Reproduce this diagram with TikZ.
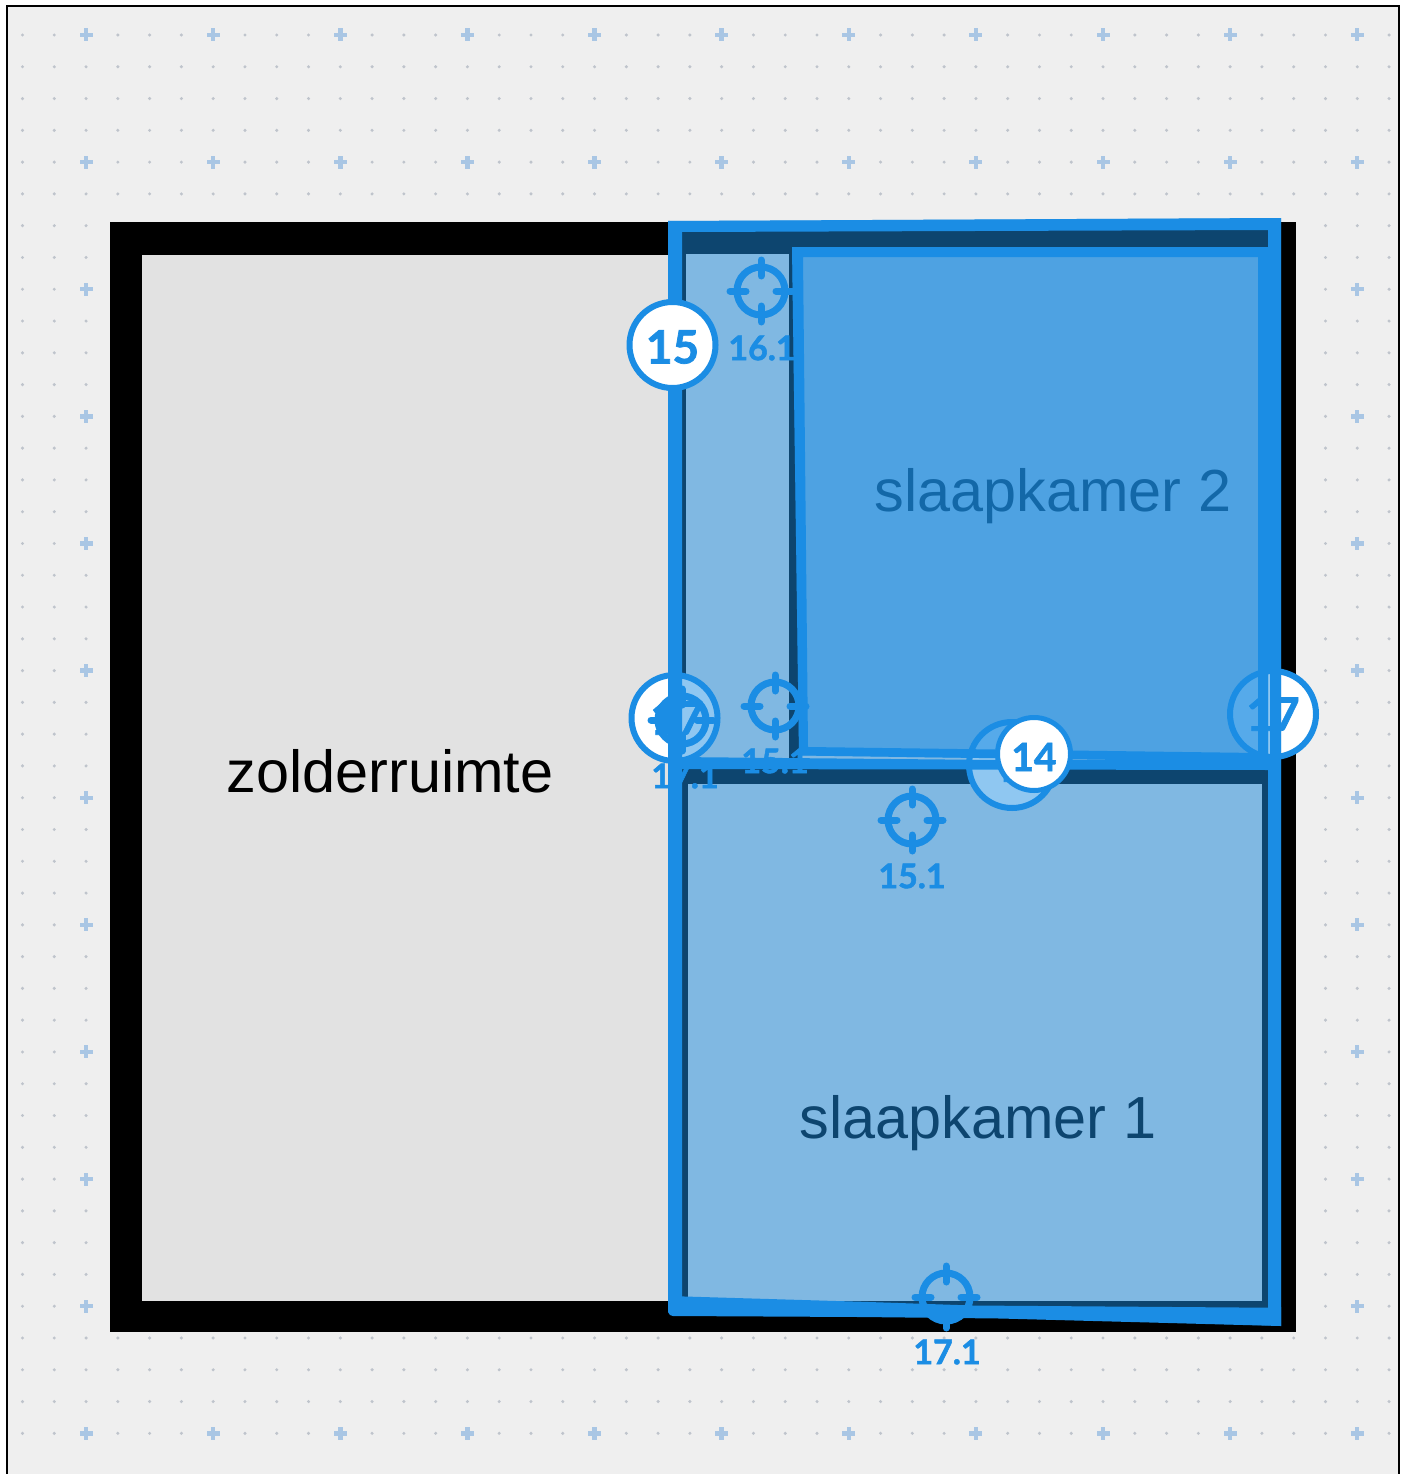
\documentclass[tikz,border=0pt]{standalone}
\usepackage{fontspec}
\setmainfont{Liberation Sans}
\newfontfamily\markfont[BoldFeatures={FakeBold=1.6}]{Lato}
\definecolor{plan}{HTML}{1B8DE4}
\definecolor{paper}{HTML}{EFEFEF}
\definecolor{roomgrey}{HTML}{E2E2E2}
\definecolor{griddot}{HTML}{BFC4CC}
\definecolor{gridplus}{HTML}{A9C6E4}
\tikzset{
  roomlabel/.style={text=black,inner sep=0pt,font=\fontsize{59.4}{60}\selectfont},
  pinlabel/.style={text=plan,inner sep=0pt,font=\markfont\bfseries\fontsize{34}{38}\selectfont},
  badgetext/.style={text=plan,inner sep=0pt,font=\markfont\bfseries\fontsize{46}{50}\selectfont},
  badgesmall/.style={text=plan,inner sep=0pt,font=\markfont\bfseries\fontsize{39}{43}\selectfont},
  badgering/.style={circle,draw=plan,fill=white,line width=6pt,minimum size=86pt,inner sep=0pt},
  roomfill/.style={fill=plan,fill opacity=0.49,draw=none},
  strokeband/.style={fill=plan,draw=none},
  pinring/.style={draw=plan,line width=7pt},
  pintick/.style={draw=plan,line width=7pt,line cap=round}
}
\newcommand{\pintarget}[2]{%
  \draw[pinring] (#1,#2) circle (24);
  \draw[pintick] (#1-31,#2) -- (#1-15,#2);
  \draw[pintick] (#1+15,#2) -- (#1+31,#2);
  \draw[pintick] (#1,#2-31) -- (#1,#2-15);
  \draw[pintick] (#1,#2+15) -- (#1,#2+31);
}
\begin{document}
\begin{tikzpicture}[x=1pt,y=-1pt]
\useasboundingbox (0,0) rectangle (1405,1474);
% sheet
\fill[white] (0,0) rectangle (1405,1474);
\fill[paper] (7,6) rectangle (1399,1480);
\draw[black,line width=2.2pt] (7,1480) -- (7,6) -- (1399,6) -- (1399,1480);
% grid
\foreach \i in {0,...,43}{
  \foreach \j in {0,...,44}{
    \pgfmathsetmacro{\gx}{22.5+31.78*\i}
    \pgfmathsetmacro{\gy}{35+31.78*\j}
    \pgfmathtruncatemacro{\ma}{mod(\i,4)}
    \pgfmathtruncatemacro{\mb}{mod(\j,4)}
    \ifnum\ma=2 \ifnum\mb=0
      \fill[gridplus] (\gx-6.5,\gy-2.2) rectangle (\gx+6.5,\gy+2.2);
      \fill[gridplus] (\gx-2.2,\gy-6.5) rectangle (\gx+2.2,\gy+6.5);
    \else
      \fill[griddot] (\gx,\gy) circle (1.7);
    \fi\else
      \fill[griddot] (\gx,\gy) circle (1.7);
    \fi
  }
}
% building: walls in black, rooms in grey
\fill[black] (110,222) rectangle (1296,1332);
\fill[roomgrey] (142,255) rectangle (672,1301);
\fill[roomgrey] (686,254) rectangle (789,760);
\fill[roomgrey] (799,254) rectangle (1262,760);
\fill[roomgrey] (688,784) rectangle (1262,1301);
\node[roomlabel] (zolder) at (390,771) {zolderruimte};
\node[roomlabel] (kamer2) at (1053,496) {slaapkamer 2};
\node[roomlabel] (kamer1) at (978,1123) {slaapkamer 1};
% badges beneath the translucent overlay
\node[badgering] (b17l) at (674.5,718) {};
\node[badgetext] (t17l) at (677,718) {17};
\node[badgering] (b17r) at (1273,714) {};
\node[badgetext] (t17r) at (1273,714) {17};
\node[badgering] (b16) at (1012,765) {};
\node[badgetext] (t16) at (1012,765) {1};
% translucent rooms
\fill[roomfill] (668,221) -- (1281,218) -- (1281,1326) -- (668,1306) -- cycle;
\fill[roomfill] (792,247) -- (1268,247) -- (1268,762) -- (799,755.5) -- cycle;
% strokes
\fill[strokeband] (668,221) -- (1281,218) -- (1281,1326) -- (1268,1325) -- (1268,756) -- (1270,756) -- (1270,672) -- (1268,672) -- (1268,230) -- (682,232) -- (682,1306) -- (668,1306) -- cycle;
\fill[strokeband] (668,1296) -- (860,1301.7) -- (973,1305.5) -- (1268,1307.7) -- (1281,1307) -- (1281,1326) -- (1000,1318.5) -- (860,1317) -- (673,1316) -- (670,1315) -- (668,1312) -- cycle;
\fill[strokeband,even odd rule] (792,247) -- (1268,247) -- (1268,762) -- (799,755.5) -- cycle
   (803,257) -- (1258,257) -- (1258,753) -- (808,747) -- cycle;
\fill[strokeband] (675,757) -- (1000,760) -- (1270,760) -- (1270,770) -- (675,769) -- cycle;
% targets
\pintarget{761}{291}
\pintarget{775}{706}
\pintarget{682}{720}
\pintarget{912}{820}
\pintarget{946}{1297}
\node[pinlabel] (p161) at (762,348) {16.1};
\node[pinlabel] (p151a) at (775,761) {15.1};
\node[pinlabel] (p171a) at (685,776) {17.1};
\node[pinlabel] (p151b) at (912,876) {15.1};
\node[pinlabel] (p171b) at (947,1352) {17.1};
% badges on top
\node[badgering] (b15) at (672.5,345) {};
\node[badgetext] (t15) at (672.5,347) {15};
\node[badgering,minimum size=73pt,line width=5pt] (b14) at (1034,754) {};
\node[badgesmall] (t14) at (1034,757) {14};
\end{tikzpicture}
\end{document}
